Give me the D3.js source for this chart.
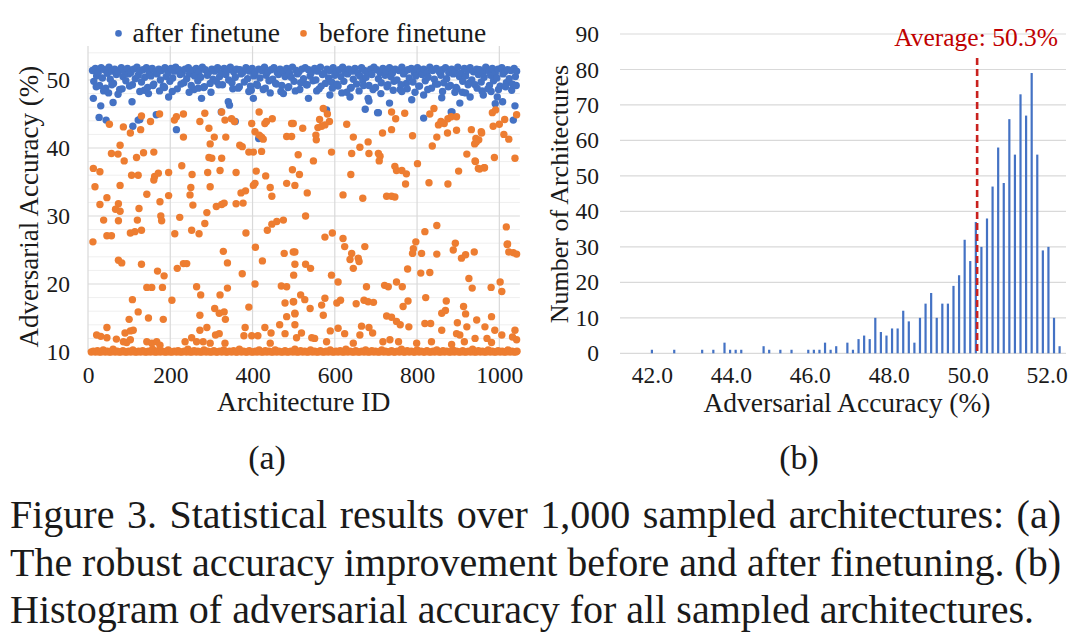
<!DOCTYPE html>
<html>
<head>
<meta charset="utf-8">
<script src="https://cdn.jsdelivr.net/npm/d3@7"></script>
<style>
  html, body { margin: 0; padding: 0; background: #fff; }
  svg { display: block; }
  text { font-family: "Liberation Serif", "Times New Roman", serif; fill: #1a1a1a; }
</style>
</head>
<body>
<svg id="chart" width="1080" height="643"></svg>
<script>
// ---------------- DATA ----------------
// (a) scatter: [architecture ID, adversarial accuracy %]
const afterBand = [
[11,51.4],[14,49.8],[18,51.7],[21,50.6],[25,51.1],[28,49.2],[32,51.8],[35,50.3],[40,51.5],[43,48.8],
[47,51.0],[51,51.9],[54,50.1],[58,51.3],[62,49.5],[65,51.6],[69,50.8],[74,51.2],[77,48.6],[81,51.8],
[85,50.5],[88,51.4],[92,49.9],[96,51.7],[99,50.9],[104,51.1],[108,49.3],[111,51.6],[115,50.2],[119,51.9],
[122,50.7],[126,51.3],[130,49.7],[134,51.5],[138,50.4],[142,51.8],[145,48.9],[149,51.0],[153,50.6],[156,51.7],
[160,49.4],[165,51.2],[168,50.9],[172,51.6],[176,50.0],[179,51.4],[183,49.1],[187,51.8],[190,50.5],[195,51.1],
[199,49.8],[202,51.7],[206,50.3],[210,51.3],[213,51.9],[217,48.7],[221,51.5],[224,50.8],[229,51.0],[233,49.6],
[236,51.6],[240,50.2],[244,51.8],[247,50.9],[251,49.2],[255,51.4],[259,50.6],[263,51.7],[267,49.9],[270,51.2],
[274,50.4],[278,51.9],[281,48.9],[285,51.5],[290,50.7],[293,51.1],[297,49.5],[301,51.6],[304,50.1],[308,51.3],
[312,49.8],[315,51.8],[320,50.5],[324,51.0],[327,49.3],[331,51.7],[335,50.8],[338,51.4],[342,50.0],[346,51.9],
[350,49.6],[354,51.2],[358,50.4],[361,51.6],[365,48.8],[369,51.5],[372,50.9],[376,51.1],[380,49.7],[384,51.8],
[388,50.2],[392,51.3],[395,49.1],[399,51.7],[403,50.6],[406,51.0],[410,49.4],[415,51.6],[418,50.3],[422,51.4],
[426,48.6],[429,51.9],[433,50.7],[437,51.2],[440,49.9],[445,51.5],[449,50.1],[452,51.8],[456,49.5],[460,51.1],
[463,50.8],[467,51.6],[471,49.2],[475,51.3],[479,50.5],[483,51.7],[486,48.9],[490,51.0],[494,50.4],[497,51.9],
[501,49.8],[506,51.4],[509,50.9],[513,51.2],[517,49.6],[520,51.6],[524,50.2],[528,51.8],[531,49.3],[536,51.5],
[540,50.6],[543,51.1],[547,49.9],[551,51.7],[554,50.0],[558,51.3],[562,48.7],[565,51.9],[570,50.8],[574,51.0],
[577,49.5],[581,51.6],[585,50.3],[588,51.4],[592,49.7],[596,51.8],[600,50.7],[604,51.2],[608,49.1],[611,51.5],
[615,50.5],[619,51.9],[622,49.8],[626,51.1],[631,50.9],[634,51.6],[638,48.8],[642,51.3],[645,50.1],[649,51.7],
[653,49.4],[656,51.0],[661,50.6],[665,51.8],[668,49.9],[672,51.4],[676,50.4],[679,51.2],[683,49.2],[687,51.6],
[690,50.8],[695,51.9],[699,48.9],[702,51.5],[706,50.2],[710,51.1],[713,49.6],[717,51.7],[722,50.7],[725,51.3],
[729,49.3],[733,51.8],[736,50.5],[740,51.0],[744,49.8],[747,51.6],[751,50.0],[756,51.4],[759,48.6],[763,51.9],
[767,50.9],[770,51.2],[774,49.5],[778,51.5],[781,50.3],[786,51.7],[790,49.7],[793,51.1],[797,50.6],[801,51.8],
[804,49.1],[808,51.3],[812,50.8],[816,51.6],[820,49.9],[824,51.0],[827,50.4],[831,51.9],[835,48.8],[838,51.4],
[842,50.1],[847,51.7],[850,49.4],[854,51.2],[858,50.7],[861,51.5],[865,49.6],[869,51.8],[872,50.2],[877,51.1],
[881,49.2],[884,51.6],[888,50.9],[892,51.3],[895,48.9],[899,51.9],[903,50.5],[906,51.0],[911,49.8],[915,51.7],
[918,50.6],[922,51.4],[926,49.5],[929,51.8],[933,50.0],[937,51.2],[941,49.3],[945,51.6],[949,50.8],[952,51.5],
[956,49.7],[960,51.1],[963,50.4],[967,51.9],[972,48.7],[975,51.3],[979,50.7],[983,51.7],[986,49.9],[990,51.0],
[994,50.3],[997,51.6],[1002,49.1],[1006,51.8],[1009,50.9],[1013,51.2],[1017,49.6],[1020,51.5],[1024,50.2],[1028,51.4],
[1032,49.4],[1036,51.7],[1039,50.5],[1042,51.3]
];
const afterLower = [
[20,49.0],[38,48.4],[58,49.3],[83,48.7],[101,49.1],[137,48.5],[158,49.2],[186,48.9],[205,48.3],[226,49.4],
[258,48.6],[283,49.0],[299,48.2],[318,49.3],[352,48.7],[368,49.0],[397,48.5],[412,49.2],[431,48.8],[458,49.4],
[469,48.3],[488,49.0],[515,48.6],[533,49.3],[556,48.4],[567,49.1],[594,48.8],[606,49.4],[617,48.1],[640,48.9],
[659,48.4],[670,49.2],[693,48.6],[712,48.0],[727,49.0],[742,48.5],[761,49.3],[776,48.7],[795,48.2],[806,49.1],
[826,48.6],[845,49.4],[862,48.3],[876,49.0],[897,48.7],[910,48.2],[924,49.3],[946,48.8],[958,48.4],[976,49.2],
[998,48.6],[1015,49.0],[1030,48.5],[1041,49.2]
];
const afterOutliers = [
[13,47.3],[31,46.2],[61,46.7],[107,46.8],[27,44.5],[44,44.1],[109,43.2],[126,44.2],[166,44.9],[215,42.7],
[196,47.5],[147,48.0],[126,48.3],[268,48.8],[276,47.3],[341,46.8],[324,45.3],[358,43.9],[415,41.4],[402,47.3],
[475,48.0],[536,47.3],[588,47.8],[637,47.5],[681,47.3],[683,46.9],[674,45.7],[706,45.2],[733,46.6],[580,45.6],
[787,47.1],[816,47.8],[816,44.4],[860,47.4],[885,45.3],[892,48.2],[904,46.6],[929,47.5],[961,47.8],[990,46.5],
[1008,46.8],[1038,46.2],[1034,44.1],[995,47.5],[122,44.1],[344,46.3],[418,41.7],[704,45.2],[883,45.3],[50,48.1],
[73,47.9],[174,48.4],[246,48.2],[391,48.3],[443,48.1],[504,48.4],[629,48.2],[763,48.3],[918,48.1],[980,48.3]
];
const beforeScatter = [
[52,43.5],[86,43.1],[103,42.2],[130,44.7],[128,42.7],[152,43.9],[174,45.0],[78,40.4],[57,39.2],[73,39.1],
[88,38.1],[118,38.6],[135,39.3],[160,39.4],[13,37.0],[29,36.5],[106,36.0],[122,36.0],[162,35.8],[171,36.3],
[196,36.4],[160,35.3],[17,34.3],[78,34.5],[143,33.2],[196,33.0],[46,32.7],[29,31.7],[74,31.8],[67,31.0],
[78,30.7],[175,32.1],[124,31.1],[38,29.4],[74,29.3],[120,29.4],[177,30.0],[179,29.3],[103,27.5],[114,27.7],
[130,27.9],[46,27.1],[57,27.1],[12,26.2],[74,23.5],[82,23.1],[130,22.9],[169,21.9],[185,21.2],[143,19.5],
[155,19.5],[181,19.5],[108,17.7],[204,17.6],[122,15.9],[100,14.8],[147,15.0],[183,14.8],[46,13.6],[21,12.5],
[31,12.3],[46,12.1],[90,12.8],[103,13.1],[110,13.2],[69,11.9],[86,11.5],[94,11.4],[103,11.8],[143,11.5],
[155,11.3],[167,11.5],[175,11.0],[215,44.6],[210,44.1],[232,45.0],[232,41.6],[228,37.4],[223,29.8],[211,27.4],
[217,22.3],[232,23.0],[236,11.5],
[284,45.1],[272,43.9],[294,42.9],[307,41.6],[297,40.6],[335,41.6],[325,45.3],[333,44.1],[349,44.3],[356,43.9],
[398,43.6],[416,45.3],[430,43.6],[448,44.3],[434,43.9],[406,42.4],[416,41.9],[422,41.6],[426,41.3],[483,41.7],
[495,43.6],[369,40.4],[375,40.2],[391,39.4],[402,39.4],[422,39.5],[294,38.6],[301,38.5],[325,38.5],[253,36.1],
[291,36.4],[321,36.7],[360,36.4],[409,36.6],[432,35.9],[483,34.8],[250,34.2],[248,33.1],[297,34.3],[255,31.6],
[289,30.5],[312,31.4],[325,31.7],[331,31.9],[360,31.8],[377,31.9],[372,33.4],[383,33.7],[402,34.5],[406,34.8],
[443,34.2],[447,32.9],[284,28.9],[252,27.9],[270,27.4],[384,27.5],[436,27.9],[447,28.8],[459,29.2],[475,29.4],
[329,24.8],[339,23.1],[407,25.4],[424,23.4],[477,24.5],[499,24.7],[240,23.0],[375,21.5],[406,20.0],[264,19.6],
[274,18.4],[321,18.4],[339,19.4],[470,19.7],[483,19.6],[499,17.4],[308,16.4],[319,15.7],[331,15.9],[334,14.8],
[391,16.6],[479,17.2],[272,15.4],[483,15.2],[503,15.7],[289,13.6],[272,13.2],[252,12.1],[264,11.5],[280,11.5],
[297,11.3],[310,12.5],[319,12.7],[382,13.6],[379,12.4],[398,12.4],[413,12.4],[430,13.6],[445,12.8],[466,14.0],
[479,12.7],[333,11.3],[443,11.3],
[572,45.8],[582,45.0],[587,43.9],[563,44.2],[559,43.0],[568,43.2],[576,43.4],[554,41.9],[555,41.2],[499,43.6],
[522,42.9],[495,41.7],[592,39.4],[548,38.1],[511,39.0],[629,43.5],[645,41.6],[641,39.2],[661,40.1],[681,40.9],
[683,39.2],[706,39.2],[710,38.8],[708,38.1],[716,42.2],[738,42.7],[738,45.3],[748,44.3],[746,37.3],[750,36.7],
[497,36.8],[514,36.1],[503,34.5],[533,33.4],[639,36.1],[620,33.1],[668,32.6],[726,32.9],[738,32.9],[529,30.0],
[576,26.9],[594,27.5],[620,26.7],[624,25.5],[673,25.5],[641,24.5],[637,23.6],[657,23.8],[659,23.3],[645,22.3],
[503,24.7],[503,22.9],[529,22.9],[541,22.3],[500,21.3],[592,21.3],[608,20.3],[677,19.6],[721,19.8],[730,19.6],
[750,20.3],[517,18.4],[527,17.7],[540,16.4],[500,17.4],[576,17.9],[568,16.9],[572,15.4],[605,17.2],[614,17.6],
[652,17.1],[671,17.6],[681,17.4],[694,17.3],[726,15.3],[738,15.1],[750,14.5],[503,15.6],[503,14.0],[519,12.8],
[507,12.1],[544,12.1],[551,12.0],[589,13.1],[608,13.5],[624,12.7],[665,13.8],[661,12.5],[683,13.6],[692,12.8],
[717,11.5],[734,11.8],[580,11.5],[645,11.3],
[770,45.1],[789,41.8],[831,45.0],[841,45.8],[848,41.6],[852,43.4],[837,40.3],[858,43.9],[866,43.6],[875,44.3],
[874,42.2],[883,44.6],[896,44.6],[896,42.6],[932,42.7],[943,41.4],[940,40.6],[957,42.2],[983,45.2],[985,43.2],
[1013,44.2],[921,39.1],[941,38.1],[949,37.0],[963,37.1],[988,38.6],[763,36.7],[774,36.2],[801,37.7],[772,34.7],
[829,34.9],[875,34.7],[901,36.6],[746,32.8],[819,27.7],[848,28.6],[797,26.2],[791,25.2],[789,24.5],[811,24.5],
[848,24.4],[893,26.0],[888,25.0],[908,23.8],[918,24.3],[939,24.7],[1017,28.4],[1020,25.9],[1023,24.7],[764,19.6],
[777,22.2],[809,21.6],[831,21.7],[926,20.8],[934,19.4],[980,19.5],[1002,20.3],[1006,18.9],[778,17.5],[766,16.7],
[821,18.0],[871,17.5],[860,15.7],[869,16.1],[913,16.7],[918,15.6],[759,14.0],[780,13.7],[819,14.2],[833,14.2],
[898,14.3],[945,14.7],[965,13.7],[981,15.2],[989,13.2],[860,13.2],[896,12.7],[904,12.5],[921,13.7],[941,12.0],
[970,12.0],[1006,12.5],[755,11.5],[799,11.3],[835,11.5],[884,11.1],[915,11.5],[981,11.4],
[1042,44.9],[1023,41.3],[1038,38.5],[1019,25.8],[1034,24.6],[1042,24.4],[1038,13.2],[1042,11.8],[1032,12.2],[991,45.6],
[1000,43.5],[1011,42.0],[956,42.4],[950,41.2],[944,40.9],[942,38.0],[964,37.1],[952,36.9]
];
const beforeFloor = [
[8,10.0],[13,10.1],[18,10.0],[23,10.2],[27,10.0],[32,10.0],[37,10.3],[42,10.0],[47,10.1],[51,10.0],
[56,10.0],[61,10.4],[66,10.0],[71,10.1],[75,10.0],[80,10.0],[85,10.2],[90,10.0],[95,10.0],[99,10.1],
[104,10.0],[109,10.3],[114,10.0],[119,10.0],[123,10.1],[128,10.0],[133,10.2],[138,10.0],[143,10.0],[147,10.1],
[152,10.0],[157,10.4],[162,10.0],[167,10.0],[171,10.2],[176,10.0],[181,10.1],[186,10.0],[191,10.0],[195,10.3],
[200,10.0],[205,10.0],[210,10.1],[215,10.0],[219,10.2],[224,10.0],[229,10.0],[234,10.1],[239,10.0],[243,10.4],
[248,10.0],[253,10.0],[258,10.2],[263,10.0],[267,10.1],[272,10.0],[277,10.0],[282,10.3],[287,10.0],[291,10.1],
[296,10.0],[301,10.0],[306,10.2],[311,10.0],[315,10.0],[320,10.1],[325,10.0],[330,10.3],[335,10.0],[339,10.0],
[344,10.1],[349,10.0],[354,10.2],[359,10.0],[363,10.0],[368,10.4],[373,10.0],[378,10.1],[383,10.0],[387,10.0],
[392,10.2],[397,10.0],[402,10.0],[407,10.1],[411,10.0],[416,10.3],[421,10.0],[426,10.0],[431,10.2],[435,10.0],
[440,10.1],[445,10.0],[450,10.0],[455,10.3],[459,10.0],[464,10.1],[469,10.0],[474,10.0],[479,10.2],[483,10.0],
[488,10.0],[493,10.1],[498,10.0],[503,10.4],[507,10.0],[512,10.0],[517,10.2],[522,10.0],[527,10.1],[531,10.0],
[536,10.0],[541,10.3],[546,10.0],[551,10.1],[555,10.0],[560,10.0],[565,10.2],[570,10.0],[575,10.0],[579,10.1],
[584,10.0],[589,10.3],[594,10.0],[599,10.0],[603,10.1],[608,10.0],[613,10.2],[618,10.0],[623,10.0],[627,10.4],
[632,10.0],[637,10.1],[642,10.0],[647,10.0],[651,10.2],[656,10.0],[661,10.0],[666,10.1],[671,10.0],[675,10.3],
[680,10.0],[685,10.0],[690,10.2],[695,10.0],[699,10.1],[704,10.0],[709,10.0],[714,10.3],[719,10.0],[723,10.1],
[728,10.0],[733,10.0],[738,10.2],[743,10.0],[747,10.0],[752,10.1],[757,10.0],[762,10.4],[767,10.0],[771,10.0],
[776,10.2],[781,10.0],[786,10.1],[791,10.0],[795,10.0],[800,10.3],[805,10.0],[810,10.1],[815,10.0],[819,10.0],
[824,10.2],[829,10.0],[834,10.0],[839,10.1],[843,10.0],[848,10.3],[853,10.0],[858,10.0],[863,10.2],[867,10.0],
[872,10.1],[877,10.0],[882,10.0],[887,10.3],[891,10.0],[896,10.1],[901,10.0],[906,10.0],[911,10.2],[915,10.0],
[920,10.0],[925,10.1],[930,10.0],[935,10.4],[939,10.0],[944,10.0],[949,10.2],[954,10.0],[959,10.1],[963,10.0],
[968,10.0],[973,10.3],[978,10.0],[983,10.1],[987,10.0],[992,10.0],[997,10.2],[1002,10.0],[1007,10.1],[1011,10.0],
[1016,10.0],[1021,10.3],[1026,10.0],[1031,10.1],[1035,10.0],[1040,10.0],[1043,10.1]
];
const scatterXTicks = [0, 200, 400, 600, 800, 1000];
const scatterYTicks = [10, 20, 30, 40, 50];
const scatterYMinor = [12,14,16,18,22,24,26,28,32,34,36,38,42,44,46,48,52,54];
const seriesNames = ["after finetune", "before finetune"];

// (b) histogram: counts per accuracy bin
const binStart = 42.0;
const binWidth = 0.1415;
const binCounts = [
 1,0,0,0,1,0,0,0,0,1, 0,1,0,3,1,1,1,0,0,0,
 2,1,0,1,0,1,0,0,1,1, 1,3,1,2,0,3,1,4,5,4,
 10,6,5,7,7,12,9,3,10,14, 17,10,14,14,19,22,32,26,37,30,
 38,47,58,48,66,56,73,67,79,56, 29,30,10,2
];
const histXTicks = [42, 44, 46, 48, 50, 52];
const histYTicks = [0,10,20,30,40,50,60,70,80,90];
const averageLine = 50.24;
const averageLabel = "Average: 50.3%";

const captionLines = [
  "Figure 3. Statistical results over 1,000 sampled architectures: (a)",
  "The robust accuracy improvement before and after finetuning. (b)",
  "Histogram of adversarial accuracy for all sampled architectures."
];

// ---------------- DRAW ----------------
const svg = d3.select("#chart");
const BLUE = "#4472C4", ORANGE = "#ED7D31", GRID = "#d9d9d9", MINOR = "#efefef";
const TICK_FONT = "23.5px";

// ===== (a) scatter =====
const sx = d3.scaleLinear().domain([0, 1050]).range([88, 519.9]);
const sy = d3.scaleLinear().domain([10, 55]).range([352, 46]);

const ga = svg.append("g");
ga.selectAll("line.minor").data(scatterYMinor).join("line")
  .attr("x1", sx(0)).attr("x2", sx(1050))
  .attr("y1", d => sy(d)).attr("y2", d => sy(d))
  .attr("stroke", MINOR).attr("stroke-width", 1);
ga.selectAll("line.hmajor").data(scatterYTicks).join("line")
  .attr("x1", sx(0)).attr("x2", sx(1050))
  .attr("y1", d => sy(d)).attr("y2", d => sy(d))
  .attr("stroke", GRID).attr("stroke-width", 1.2);
ga.selectAll("line.vmajor").data(scatterXTicks).join("line")
  .attr("x1", d => sx(d)).attr("x2", d => sx(d))
  .attr("y1", sy(55)).attr("y2", sy(10))
  .attr("stroke", GRID).attr("stroke-width", 1.2);

const ax = ga.append("g").attr("transform", `translate(0,${sy(10)})`)
  .call(d3.axisBottom(sx).tickValues(scatterXTicks).tickSize(0).tickFormat(d3.format("d")));
ax.select(".domain").remove();
ax.selectAll("text").attr("y", 31).attr("dy", 0)
  .style("font-size", TICK_FONT).style("font-family", "Liberation Serif").attr("fill", "#1a1a1a");

const ay = ga.append("g").attr("transform", `translate(${sx(0)},0)`)
  .call(d3.axisLeft(sy).tickValues(scatterYTicks).tickSize(0).tickPadding(18));
ay.select(".domain").remove();
ay.selectAll("text").style("font-size", TICK_FONT).style("font-family", "Liberation Serif").attr("fill", "#1a1a1a");

const allAfter = afterBand.concat(afterLower, afterOutliers);
const allBefore = beforeFloor.concat(beforeScatter);
ga.append("g").selectAll("circle").data(allAfter).join("circle")
  .attr("cx", d => sx(d[0])).attr("cy", d => sy(d[1])).attr("r", 3.7).attr("fill", BLUE);
ga.append("g").selectAll("circle").data(allBefore).join("circle")
  .attr("cx", d => sx(d[0])).attr("cy", d => sy(d[1])).attr("r", 3.7).attr("fill", ORANGE);

// legend
const legend = [
  {name: seriesNames[0], color: BLUE, dx: 118.5, tx: 132.5},
  {name: seriesNames[1], color: ORANGE, dx: 303.5, tx: 319}
];
legend.forEach(l => {
  svg.append("circle").attr("cx", l.dx).attr("cy", 33.4).attr("r", 3.3).attr("fill", l.color);
  svg.append("text").attr("x", l.tx).attr("y", 42).style("font-size", "27.5px").text(l.name);
});

svg.append("text").attr("x", 303.7).attr("y", 411).attr("text-anchor", "middle")
  .style("font-size", "27.5px").text("Architecture ID");
svg.append("text").attr("transform", "translate(29.3,206.7) rotate(-90)")
  .attr("text-anchor", "middle").attr("dominant-baseline", "central")
  .style("font-size", "27px").text("Adversarial Accuracy (%)");

// ===== (b) histogram =====
const hx = d3.scaleLinear().domain([42, 52]).range([651.9, 1046.6]);
const hy = d3.scaleLinear().domain([0, 90]).range([353.3, 34]);
const gb = svg.append("g");
gb.selectAll("line.grid").data(histYTicks).join("line")
  .attr("x1", 620).attr("x2", 1066)
  .attr("y1", d => hy(d)).attr("y2", d => hy(d))
  .attr("stroke", GRID).attr("stroke-width", 1.2);

const bins = binCounts.map((c, i) => ({v: binStart + i * binWidth, c}));
gb.selectAll("rect").data(bins.filter(b => b.c > 0)).join("rect")
  .attr("x", d => hx(d.v) - 1.1).attr("width", 2.2)
  .attr("y", d => hy(d.c)).attr("height", d => hy(0) - hy(d.c))
  .attr("fill", BLUE);

const hax = gb.append("g").attr("transform", `translate(0,${hy(0)})`)
  .call(d3.axisBottom(hx).tickValues(histXTicks).tickSize(0).tickFormat(d3.format(".1f")));
hax.select(".domain").remove();
hax.selectAll("text").attr("y", 30).attr("dy", 0)
  .style("font-size", TICK_FONT).style("font-family", "Liberation Serif").attr("fill", "#1a1a1a");

const hay = gb.append("g").attr("transform", `translate(620,0)`)
  .call(d3.axisLeft(hy).tickValues(histYTicks).tickSize(0).tickPadding(21));
hay.select(".domain").remove();
hay.selectAll("text").style("font-size", TICK_FONT).style("font-family", "Liberation Serif").attr("fill", "#1a1a1a");

gb.append("line")
  .attr("x1", hx(averageLine)).attr("x2", hx(averageLine))
  .attr("y1", 58).attr("y2", hy(0))
  .attr("stroke", "#C9211E").attr("stroke-width", 2.6).attr("stroke-dasharray", "7,4");
gb.append("text").attr("x", 1058).attr("y", 46).attr("text-anchor", "end")
  .style("font-size", "25.5px").style("fill", "#C00000").text(averageLabel);

svg.append("text").attr("x", 847).attr("y", 412).attr("text-anchor", "middle")
  .style("font-size", "27.5px").text("Adversarial Accuracy (%)");
svg.append("text").attr("transform", "translate(559,194) rotate(-90)")
  .attr("text-anchor", "middle").attr("dominant-baseline", "central")
  .style("font-size", "26px").text("Number of Architectures");

// sub labels
svg.append("text").attr("x", 267).attr("y", 469).attr("text-anchor", "middle").style("font-size", "34px").text("(a)");
svg.append("text").attr("x", 799).attr("y", 469).attr("text-anchor", "middle").style("font-size", "34px").text("(b)");

// caption (first two lines justified)
const capY = [528, 576, 623];
const capX0 = 10, capX1 = 1061;
captionLines.forEach((line, li) => {
  if (li === 2) {
    svg.append("text").attr("x", capX0).attr("y", capY[li]).style("font-size", "40px").text(line);
    return;
  }
  const words = line.split(" ");
  const nodes = words.map(w => svg.append("text").attr("y", capY[li]).style("font-size", "40px").text(w));
  const widths = nodes.map(n => n.node().getComputedTextLength());
  const gap = (capX1 - capX0 - d3.sum(widths)) / (words.length - 1);
  let x = capX0;
  nodes.forEach((n, i) => { n.attr("x", x); x += widths[i] + gap; });
});
</script>
</body>
</html>
